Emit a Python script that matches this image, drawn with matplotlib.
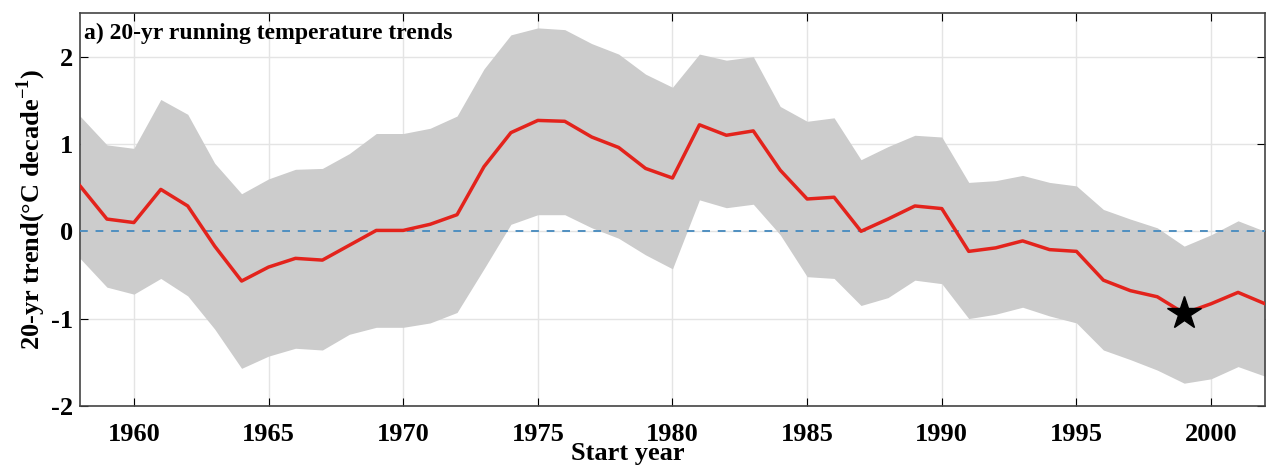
import matplotlib.pyplot as plt
import numpy as np

years = np.arange(1958, 2003)

trend = [0.52, 0.14, 0.10, 0.48, 0.29, -0.17, -0.57, -0.41, -0.31, -0.33,
         -0.16, 0.01, 0.01, 0.08, 0.19, 0.74, 1.13, 1.27, 1.26, 1.08,
         0.96, 0.72, 0.61, 1.22, 1.10, 1.15, 0.70, 0.37, 0.39, 0.00,
         0.14, 0.29, 0.26, -0.23, -0.19, -0.11, -0.21, -0.23, -0.56, -0.68,
         -0.75, -0.94, -0.83, -0.70, -0.83]

upper = [1.32, 0.99, 0.95, 1.51, 1.34, 0.78, 0.43, 0.60, 0.71, 0.72,
         0.89, 1.12, 1.12, 1.18, 1.32, 1.86, 2.25, 2.33, 2.31, 2.15,
         2.03, 1.80, 1.65, 2.03, 1.96, 2.00, 1.43, 1.26, 1.30, 0.82,
         0.97, 1.10, 1.08, 0.56, 0.58, 0.64, 0.56, 0.52, 0.25, 0.14,
         0.04, -0.17, -0.04, 0.12, 0.00]

lower = [-0.31, -0.64, -0.72, -0.54, -0.74, -1.12, -1.57, -1.43, -1.34, -1.36,
         -1.18, -1.10, -1.10, -1.05, -0.93, -0.43, 0.08, 0.19, 0.19, 0.04,
         -0.08, -0.27, -0.43, 0.36, 0.27, 0.31, -0.04, -0.52, -0.54, -0.85,
         -0.76, -0.56, -0.60, -1.00, -0.95, -0.87, -0.97, -1.05, -1.36, -1.47,
         -1.59, -1.74, -1.69, -1.55, -1.66]

star_year = 1999
star_val = trend[star_year - 1958]

plt.rcParams['font.family'] = ['Liberation Serif', 'DejaVu Serif']
plt.rcParams['font.weight'] = 'bold'
plt.rcParams['axes.unicode_minus'] = False
plt.rcParams['mathtext.fontset'] = 'custom'
plt.rcParams['mathtext.rm'] = 'Liberation Serif:bold'
plt.rcParams['mathtext.bf'] = 'Liberation Serif:bold'

fig = plt.figure(figsize=(12.66, 4.66), dpi=100)
ax = fig.add_axes([0.0632, 0.129, 0.936, 0.843])

ax.fill_between(years, lower, upper, color='#cccccc', linewidth=0, zorder=2)
ax.axhline(0, color='#4f8fc0', linestyle=(0, (4, 4)), linewidth=1.4, zorder=3)
ax.plot(years, trend, color='#e3231c', linewidth=2.5, zorder=4)
ax.plot(star_year, star_val, marker='*', color='black', markersize=25, zorder=5)

ax.set_xlim(1958, 2002)
ax.set_ylim(-2, 2.5)
ax.set_xticks(np.arange(1960, 2001, 5))
ax.set_yticks([-2, -1, 0, 1, 2])
ax.grid(True, color='#e4e4e4', linewidth=1, zorder=0)
ax.set_axisbelow(True)
ax.tick_params(direction='in', top=True, right=True, labelsize=19, length=6)
ax.tick_params(axis='x', pad=12)
ax.tick_params(axis='y', pad=5)
for s in ax.spines.values():
    s.set_color('#444444')
    s.set_linewidth(1.2)

ax.set_ylabel('20-yr trend(°C decade$^{-1}$)', fontsize=19, fontweight='bold', labelpad=2)
ax.text(0.462, -0.12, 'Start year', transform=ax.transAxes, ha='center', va='center',
        fontsize=19, fontweight='bold')
ax.text(0.003, 0.949, 'a) 20-yr running temperature trends', transform=ax.transAxes,
        ha='left', va='center', fontsize=17, fontweight='bold')

fig.savefig('out.png', dpi=100)
